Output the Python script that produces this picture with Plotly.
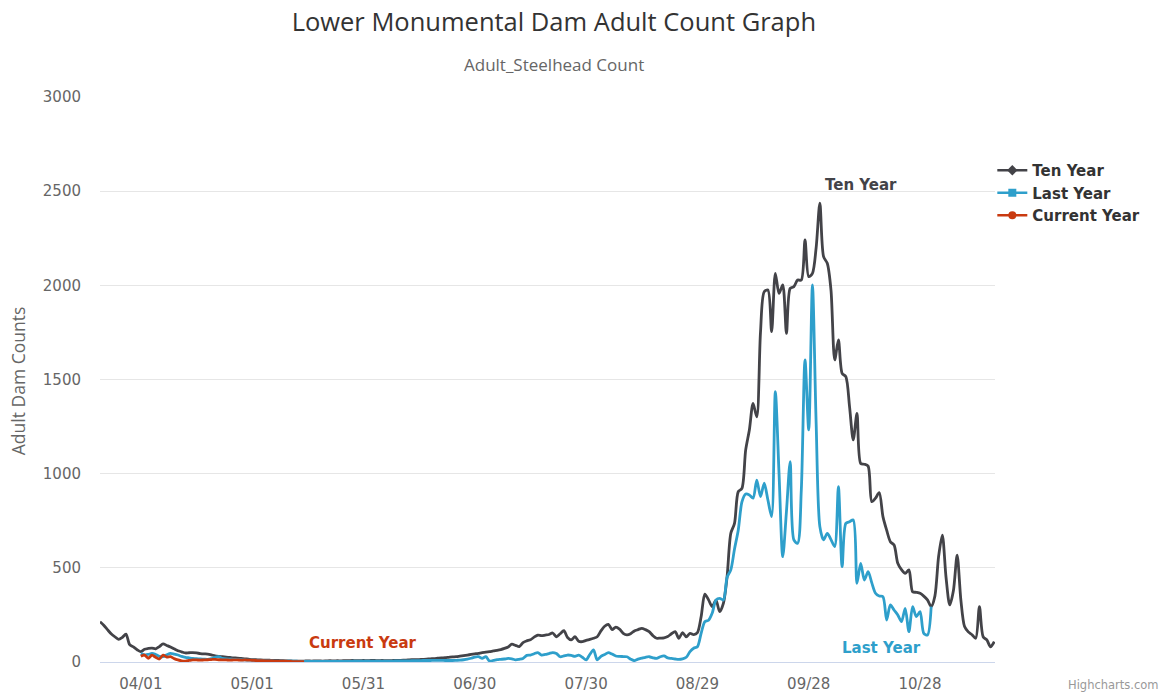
import plotly.graph_objects as go
import pandas as pd

# ---------------- data ----------------
ten_year_start = "2023-03-21"
ten_year = [
    214, 195, 172, 150, 134, 120, 130, 148, 92, 80,
    65, 55, 68, 72, 74, 70, 82, 96, 88, 80,
    70, 60, 54, 48, 49, 50, 48, 45, 43, 42,
    38, 33, 30, 28, 26, 24, 22, 21, 19, 17,
    15, 13, 12, 11, 10, 10, 9, 8, 8, 7,
    6, 6, 5, 5, 5, 5, 6, 5, 6, 6,
    5, 6, 7, 6, 7, 6, 7, 7, 8, 7,
    7, 8, 7, 8, 8, 7, 8, 7, 7, 8,
    9, 9, 10, 11, 12, 12, 13, 14, 15, 17,
    18, 20, 22, 23, 25, 27, 28, 31, 34, 37,
    40, 43, 46, 50, 52, 55, 59, 62, 66, 72,
    80, 95, 88, 82, 103, 112, 118, 132, 143, 140,
    143, 146, 154, 134, 150, 166, 130, 117, 134, 110,
    108, 115, 120, 126, 134, 165, 190, 200, 172, 185,
    175, 152, 144, 150, 165, 172, 179, 172, 161, 140,
    126, 127, 128, 135, 150, 161, 126, 156, 134, 152,
    145, 156, 240, 360, 330, 294, 329, 267, 311, 453,
    683, 736, 904, 922, 1125, 1232, 1373, 1302, 1750, 1966,
    1975, 1754, 2064, 1957, 2002, 1745, 1984, 1993, 2028, 2028,
    2241, 2046, 2064, 2200, 2436, 2152, 2117, 1975, 1604, 1710,
    1533, 1515, 1356, 1179, 1320, 1054, 1050, 1040, 851, 870,
    899, 772, 700, 639, 621, 524, 490, 471, 489, 373,
    370, 365, 350, 330, 294, 350, 560, 674, 450, 303,
    380, 568, 330, 188, 160, 145, 126, 294, 134, 117,
    81, 108,
]

last_year_start = "2023-04-01"
last_year = [
    45, 38, 40, 46, 40, 30, 28, 38, 46, 42,
    37, 30, 25, 22, 19, 18, 16, 15, 14, 18,
    25, 28, 19, 16, 15, 14, 13, 12, 11, 10,
    9, 8, 7, 7, 6, 6, 5, 5, 5, 4,
    4, 4, 4, 3, 3, 3, 3, 3, 3, 3,
    3, 3, 3, 3, 3, 3, 3, 4, 4, 4,
    4, 4, 4, 4, 5, 5, 5, 5, 5, 6,
    6, 6, 6, 7, 7, 7, 8, 8, 8, 9,
    9, 9, 8, 8, 8, 9, 10, 12, 15, 20,
    26, 28, 20, 28, 5, 8, 12, 14, 16, 19,
    17, 11, 14, 19, 35, 37, 44, 50, 37, 40,
    45, 50, 45, 28, 32, 37, 35, 30, 37, 25,
    11, 40, 64, 11, 30, 40, 50, 42, 32, 30,
    29, 28, 15, 7, 15, 20, 25, 28, 22, 19,
    28, 32, 22, 19, 16, 14, 17, 25, 55, 73,
    81, 152, 214, 222, 260, 329, 338, 329, 450, 489,
    600, 700, 850, 892, 887, 870, 966, 878, 949, 860,
    772, 1435, 1000, 559, 800, 1064, 648, 630, 913, 1604,
    1232, 2002, 1267, 719, 648, 683, 650, 613, 931, 506,
    736, 745, 754, 418, 524, 435, 480, 420, 365, 350,
    347, 223, 303, 276, 250, 214, 285, 161, 294, 241,
    267, 152, 143, 294,
]

current_year_start = "2023-04-01"
current_year = [
    30, 37, 20, 36, 25, 16, 37, 26, 28, 18,
    11, 6, 5, 8, 11, 11, 10, 11, 12, 13,
    14, 12, 11, 11, 10, 11, 11, 10, 11, 10,
    9, 8, 7, 7, 6, 6, 5, 5, 4, 4,
    3, 2, 2, 2, 2,
]

tick_dates = ["2023-04-01", "2023-05-01", "2023-05-31", "2023-06-30",
              "2023-07-30", "2023-08-29", "2023-09-28", "2023-10-28"]
tick_labels = ["04/01", "05/01", "05/31", "06/30", "07/30", "08/29", "09/28", "10/28"]
y_ticks = [0, 500, 1000, 1500, 2000, 2500, 3000]

series_names = ["Ten Year", "Last Year", "Current Year"]
series_colors = ["#434348", "#2e9fcb", "#c93a10"]
series_symbols = ["diamond", "square", "circle"]

# ---------------- figure ----------------
ten_x = pd.date_range(ten_year_start, periods=len(ten_year), freq="D")
last_x = pd.date_range(last_year_start, periods=len(last_year), freq="D")
cur_x = pd.date_range(current_year_start, periods=len(current_year), freq="D")

fig = go.Figure()
for xs, ys, name, color in [(ten_x, ten_year, series_names[0], series_colors[0]),
                            (last_x, last_year, series_names[1], series_colors[1]),
                            (cur_x, current_year, series_names[2], series_colors[2])]:
    fig.add_trace(go.Scatter(x=xs, y=ys, mode="lines", name=name,
                             line=dict(color=color, width=2.8, shape="spline", smoothing=0.8),
                             showlegend=False))

# legend entries (line + marker symbol)
for name, color, sym in zip(series_names, series_colors, series_symbols):
    fig.add_trace(go.Scatter(x=[None], y=[None], mode="lines+markers", name=f"<b>{name}</b>",
                             line=dict(color=color, width=2.6),
                             marker=dict(color=color, symbol=sym, size=8,
                                         line=dict(width=0)),
                             showlegend=True))

label_font = "DejaVu Sans"
t0 = pd.Timestamp(ten_year_start)
# series labels
fig.add_annotation(x=t0 + pd.Timedelta(days=205.1), y=2533,
                   text="<b>Ten Year</b>", showarrow=False,
                   font=dict(family=label_font, size=15, color=series_colors[0]))
fig.add_annotation(x=t0 + pd.Timedelta(days=210.5), y=74,
                   text="<b>Last Year</b>", showarrow=False,
                   font=dict(family=label_font, size=15, color=series_colors[1]))
fig.add_annotation(x=t0 + pd.Timedelta(days=70.9), y=101,
                   text="<b>Current Year</b>", showarrow=False,
                   font=dict(family=label_font, size=15, color=series_colors[2]))

# subtitle
fig.add_annotation(xref="paper", yref="paper", x=0.507, y=1.0584, yanchor="middle",
                   text="Adult_Steelhead Count", showarrow=False,
                   font=dict(family="Open Sans", size=17, color="#666666"))
# y axis title
fig.add_annotation(xref="paper", yref="paper", x=-0.0916, y=0.497, xanchor="center",
                   yanchor="middle", textangle=-90, text="Adult Dam Counts", showarrow=False,
                   font=dict(family="Open Sans", size=17.5, color="#666666"))
# credits
fig.add_annotation(xref="paper", yref="paper", x=1.1855, y=-0.0407, xanchor="right",
                   yanchor="middle", text="Highcharts.com", showarrow=False,
                   font=dict(family=label_font, size=11.5, color="#999999"))

fig.update_layout(
    width=1166, height=694,
    margin=dict(l=100, r=171, t=97, b=32, autoexpand=False),
    paper_bgcolor="white", plot_bgcolor="white",
    title=dict(text="Lower Monumental Dam Adult Count Graph", x=0.475, xanchor="center",
               y=1 - 22 / 694, yanchor="middle", yref="container",
               font=dict(family="Open Sans", size=25.5, color="#333333")),
    xaxis=dict(type="date", automargin=False,
               range=[t0, t0 + pd.Timedelta(days=241.2)],
               tickvals=tick_dates, ticktext=tick_labels, showgrid=False, zeroline=False,
               showline=True, linecolor="#ccd6eb", linewidth=1, ticks="",
               ticklabelstandoff=8,
               tickfont=dict(family=label_font, size=15, color="#666666")),
    yaxis=dict(range=[0, 3000], tickvals=y_ticks, showgrid=True, gridcolor="#e6e6e6",
               automargin=False,
               gridwidth=1, zeroline=False, showline=False, ticks="",
               ticklabelstandoff=18,
               tickfont=dict(family=label_font, size=15, color="#666666")),
    legend=dict(x=0.997, y=0.899, xanchor="left", yanchor="top",
                font=dict(family=label_font, size=15, color="#333333"),
                bgcolor="rgba(0,0,0,0)", tracegroupgap=0, itemwidth=30),
    showlegend=True,
)

fig.write_html("out.html", post_script="document.body.style.margin='0';",
               config={"displayModeBar": False})
